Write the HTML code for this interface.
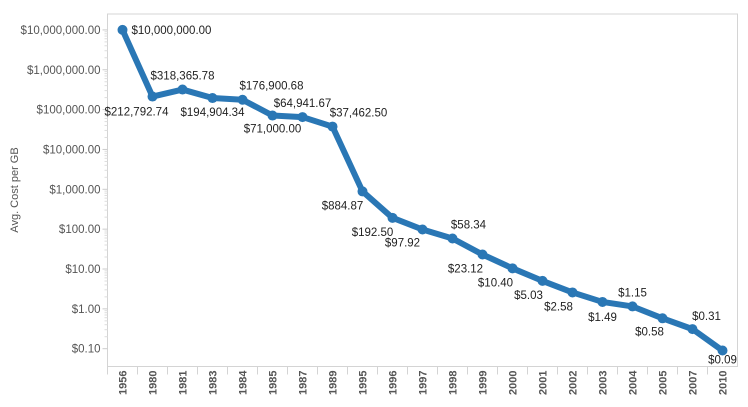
<!DOCTYPE html>
<html><head><meta charset="utf-8"><style>
body{margin:0;background:#fff;font-family:"Liberation Sans",Arial,sans-serif}
svg text{font-family:"Liberation Sans",Arial,sans-serif}
</style></head><body>
<svg id="chart" width="748" height="402" xmlns="http://www.w3.org/2000/svg"></svg>
<script>
const years=["1956","1980","1981","1983","1984","1985","1987","1989","1995","1996","1997","1998","1999","2000","2001","2002","2003","2004","2005","2007","2010"];
const costs=[10000000,212792.74,318365.78,194904.34,176900.68,71000,64941.67,37462.50,884.87,192.50,97.92,58.34,23.12,10.40,5.03,2.58,1.49,1.15,0.58,0.31,0.09];
const yTicks=[10000000,1000000,100000,10000,1000,100,10,1,0.1];
// label placement offsets (style, px)
const labelDX=[0,-16,0,0,29,0,0,26,-20,-20,-20,16,-17,-17,-14,-14,0,0,-13,14,0];
const labelDY=[0,15,-14,14,-14,13,-14,-14,14,14,13,-14,14,14,14,14,15,-14,13,-13,9];

const svg=document.getElementById('chart');
const NS='http://www.w3.org/2000/svg';
const L=107.5,R=737.5,T=14,B=366.5;
const colW=(R-L)/years.length;
const x=i=>L+colW*(i+0.5);
const y=v=>348.7-39.85*(Math.log10(v)+1);
function mk(t,a,p){const e=document.createElementNS(NS,t);for(const k in a)e.setAttribute(k,a[k]);(p||svg).appendChild(e);return e;}
function fmt(v){return '$'+v.toLocaleString('en-US',{minimumFractionDigits:2,maximumFractionDigits:2});}

const frame=mk('rect',{x:L,y:T,width:R-L,height:B-T,fill:'none',stroke:'#d4d4d4'});



for(const t of yTicks){
  const tk=mk('line',{x1:L-5,x2:L,y1:y(t),y2:y(t),stroke:'#ccc'});
  
  
  const lb=mk('text',{x:L-7,y:y(t)+4,'text-anchor':'end','font-size':11.5,fill:'#555'});
  lb.textContent=fmt(t);
  
  
  if(t<10000000){for(let m=2;m<10;m++){const v=t*m;
    const mt=mk('line',{x1:L-3,x2:L,y1:y(v),y2:y(v),stroke:'#ddd'});
    
    }}
}
const yt=mk('text',{x:18,y:190,'text-anchor':'middle','font-size':11,fill:'#555',transform:'rotate(-90 18 190)'});
yt.textContent='Avg. Cost per GB';



years.forEach((yr,i)=>{
  const sx=L+colW*i;
  const sep=mk('line',{x1:sx,x2:sx,y1:B,y2:B+8,stroke:'#d4d4d4'});
  
  
  const tx=mk('text',{x:x(i)+4,y:B+4,'text-anchor':'end','font-size':11,'font-weight':'bold',fill:'#555',transform:`rotate(-90 ${x(i)+4} ${B+4})`});
  tx.textContent=yr;
  
  
});

const line=mk('polyline',{points:costs.map((v,i)=>x(i)+','+y(v)).join(' '),fill:'none',stroke:'#2a77b5','stroke-width':6,'stroke-linejoin':'round','stroke-linecap':'round'});


costs.forEach((v,i)=>{
  const c=mk('circle',{cx:x(i),cy:y(v),r:5,fill:'#2a77b5'});
  
  
  let lx=x(i)+labelDX[i],ly=y(v)+labelDY[i]+4,anc='middle';
  if(i===0){lx=x(i)+9;anc='start';}
  const t=mk('text',{x:lx,y:ly,'text-anchor':anc,'font-size':11.5,fill:'#222'});
  t.textContent=fmt(v);
  
  
});
</script>
</body></html>
